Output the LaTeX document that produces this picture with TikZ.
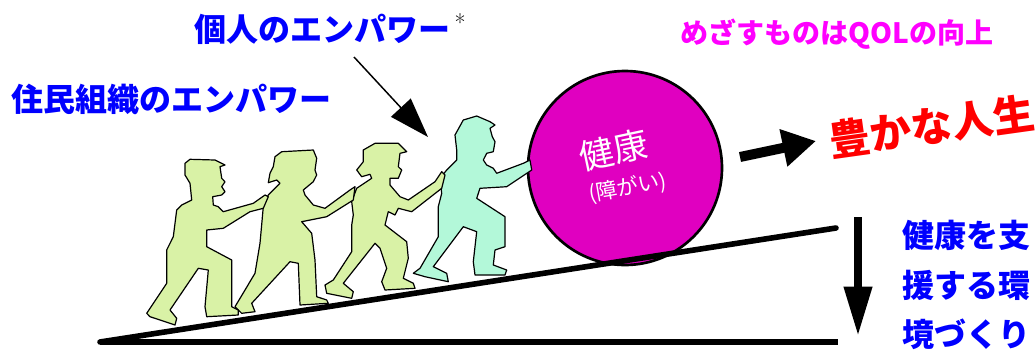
\documentclass[tikz,border=0pt]{standalone}
\usepackage{fontspec}
\usepackage{xcolor}
\usetikzlibrary{arrows.meta,positioning}
\newfontfamily\jp{Noto Sans CJK JP}
\definecolor{empblue}{RGB}{0,0,255}
\definecolor{goalpink}{RGB}{255,0,255}
\definecolor{ballmag}{RGB}{224,0,192}
\definecolor{kidgreen}{RGB}{217,242,166}
\definecolor{leadmint}{RGB}{179,248,217}

\begin{document}
\begin{tikzpicture}[
   x=0.75pt, y=-0.75pt,
   lbl/.style={font=\jp\bfseries\fontsize{24}{28}\selectfont, text=empblue, inner sep=0pt},
   goal/.style={font=\jp\bfseries\fontsize{21}{24}\selectfont, text=goalpink, inner sep=0pt},
   life/.style={font=\jp\bfseries\fontsize{31}{34}\selectfont, text=red, inner sep=0pt, rotate=8},
   ball/.style={draw, circle, line width=2pt, fill=ballmag, minimum size=145.5pt, inner sep=0pt},
   walker/.style={draw, line width=0.9pt, line join=round, fill=kidgreen},
   leader/.style={walker, fill=leadmint},
   ground/.style={line width=4.2pt},
   ptr/.style={-{Triangle[length=30pt, width=20pt]}, line width=1.1pt},
   fat/.style={-{Triangle[length=25pt, width=27pt]}, line width=7.5pt},
   drop/.style={-{Triangle[length=37pt, width=20pt]}, line width=6pt}
]
\useasboundingbox (0,0) rectangle (1036,351);

% the ball being pushed up the slope
\node[ball] (ball) at (625,168) {};
\node[font=\jp\fontsize{26}{28}\selectfont, text=white, rotate=12, inner sep=0pt] (hlth) at (614,150) {健康};
\node[font=\jp\fontsize{16}{18}\selectfont, text=white, rotate=10, inner sep=0pt] (dis) at (628,188) {(障がい)};

% four people pushing, front one first
\draw[leader] (456.7,150) -- (455,135) -- (463.3,120) -- (476.7,116) -- (490,121.7) -- (495,125)
  -- (490,128.3) -- (492.3,136.7) -- (495,141.7) -- (493.3,151.7) -- (486.7,153.3) -- (483.3,160)
  -- (486.7,165) -- (493.3,168.3) -- (496.7,173.3) -- (523.3,163.3) -- (530,160) -- (531.7,170)
  -- (506.7,186.7) -- (480,188.3) -- (476.7,198.3) -- (505,216.7) -- (505,246.7) -- (495,250)
  -- (493.3,265) -- (506.7,270) -- (505,275) -- (475,275) -- (473.3,261.7) -- (476.7,231.7)
  -- (463.3,226.7) -- (433.3,266.7) -- (446.7,273.3) -- (448.3,281.7) -- (425,276.7) -- (413.3,273.3)
  -- (420,268.3) -- (438.3,236.7) -- (438.3,206.7) -- (441.7,193.3) -- (440,178.3) -- (446.7,170)
  -- (456.7,160) -- cycle;
\draw[walker] (356.7,170) -- (363.3,161.7) -- (363.3,150) -- (375,143.3) -- (398.3,143.3) -- (406.7,151.7)
  -- (400,153.3) -- (398.3,166.7) -- (401.7,170) -- (398.3,178.3) -- (390,178.3) -- (390,185)
  -- (400,196.7) -- (408.3,200) -- (435,181.7) -- (441.7,171.7) -- (445,175) -- (441.7,188.3)
  -- (411.7,211.7) -- (398.3,208.3) -- (395,215) -- (388.3,211.7) -- (385,225) -- (406.7,241.7)
  -- (408.3,258.3) -- (403.3,278.3) -- (413.3,283.3) -- (415,288.3) -- (385,290) -- (381.7,281.7)
  -- (386.7,268.3) -- (380,248.3) -- (375,243.3) -- (343.3,283.3) -- (353.3,291.7) -- (351.7,298.3)
  -- (326.7,293.3) -- (325,285) -- (333.3,280) -- (351.7,251.7) -- (351.7,225) -- (353.3,215)
  -- (351.7,201.7) -- (356.7,188.3) -- (371.7,178.3) -- (370,174.3) -- (361.7,176.7) -- cycle;
\draw[walker] (270,173.3) -- (273.3,166.7) -- (275,156.7) -- (281.7,151.7) -- (313.3,150) -- (316.7,158.3)
  -- (315,170) -- (316.7,175) -- (313.3,181.7) -- (303.3,190) -- (305,195) -- (313.3,205)
  -- (325,208.3) -- (350,190) -- (355,186.7) -- (353.3,200) -- (326.7,216.7) -- (301.7,221.7)
  -- (311.7,233.3) -- (315,260) -- (316.7,296.7) -- (326.7,300) -- (328.3,303.3) -- (300,305)
  -- (298.3,263.3) -- (290,261.7) -- (251.7,303.3) -- (255,311.7) -- (241.7,313.3) -- (235,306.7)
  -- (255,273.3) -- (260,243.3) -- (263.3,206.7) -- (268.3,195) -- (280,183.3) -- (276.7,180)
  -- (268.3,182.7) -- cycle;
\draw[walker] (185,163.3) -- (190,159.3) -- (215,160) -- (225,165) -- (220,166.7) -- (221.7,178.3)
  -- (225,181.7) -- (221.7,186.7) -- (225,191.7) -- (221.7,195) -- (212.7,196.7) -- (213.3,205)
  -- (218.3,206.7) -- (223.3,211.7) -- (253.3,203.3) -- (265,195) -- (268.3,196.7) -- (263.3,208.3)
  -- (250,211.7) -- (223.3,228.3) -- (206.7,230) -- (206.7,246.7) -- (231.7,260) -- (231.7,306.7)
  -- (238.3,310) -- (238.3,315) -- (206.7,316.7) -- (205,306.7) -- (208.3,270) -- (198.3,268.3)
  -- (170,310) -- (176.7,318.3) -- (175,325) -- (150,316.7) -- (146.7,313.3) -- (166.7,283.3)
  -- (166.7,250) -- (173.3,236.7) -- (176.7,210) -- (181.7,205) -- (191.7,200) -- (190,183.3)
  -- (185,175) -- cycle;

% slope and floor
\coordinate (foot) at (100,342);
\coordinate (top) at (836,228);
\coordinate (end) at (838,342);
\draw[ground, line cap=round] (foot) -- (top);
\draw[ground] (foot) -- (end);

% labels
\node[lbl] (indiv) at (322,29) {個人のエンパワー};
\node[font=\fontsize{18}{18}\selectfont, inner sep=0pt, right=3pt of indiv.north east, anchor=north west] (star) {*};
\node[lbl] (org) at (172,99) {住民組織のエンパワー};
\node[goal] (qol) at (837,34) {めざすものはQOLの向上};
\node[life] (rich) at (932,126) {豊かな人生};
\node[lbl, align=left, font=\jp\bfseries\fontsize{24}{37}\selectfont] (env) at (966,285) {健康を支\\援する環\\境づくり};

% arrows
\coordinate (p0) at (354,57);
\coordinate (p1) at (428,137);
\draw[ptr] (p0) -- (p1);
\coordinate (r0) at (740,157);
\coordinate (r1) at (816,141);
\draw[fat] (r0) -- (r1);
\coordinate (d0) at (858,217);
\coordinate (d1) at (858,336);
\draw[drop] (d0) -- (d1);
\end{tikzpicture}
\end{document}
